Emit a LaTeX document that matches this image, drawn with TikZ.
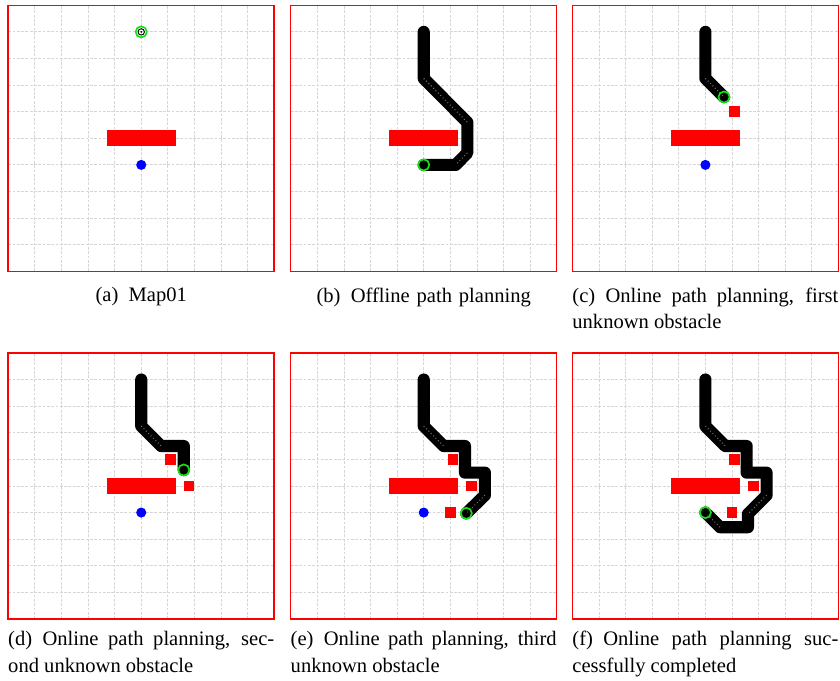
\documentclass[tikz,border=0pt]{standalone}
\usepackage{fontspec}
\setmainfont{Liberation Serif}
\usepackage{tikz}
\definecolor{robotgreen}{RGB}{20,225,20}
\newcommand{\capfont}{\fontsize{11}{14.2}\selectfont}
\newcommand{\mapgrid}{%
  \draw[gridline] (0,0) grid (10,10);
  \fill[obstacle] (3.7,4.7) rectangle (6.3,5.3);
  \draw[border] (0,0) rectangle (10,10);}
\newcommand{\goalat}[1]{\fill[blue] #1 circle (0.19);}
\newcommand{\newobst}[1]{\fill[obstacle] #1 ++(-0.2,-0.2) rectangle ++(0.4,0.4);}
\newcommand{\robotat}[1]{%
  \draw[robotring] #1 circle (0.21);
  \draw[black, line width=0.5pt] #1 circle (0.12);
  \fill[black] #1 circle (0.04);}
\tolerance=10000
\hbadness=10000

\begin{document}
\begin{tikzpicture}[x=0.5cm, y=0.5cm,
    every node/.style={font=\capfont, inner sep=0pt},
    gridline/.style={black!16, line width=0.45pt, step=0.5cm, dash pattern=on 1.5pt off 0.8pt},
    border/.style={red, line width=0.8pt},
    obstacle/.style={fill=red},
    route/.style={line width=6.5pt, line cap=round, line join=round},
    trace/.style={black!55, line width=0.6pt, dash pattern=on 0.5pt off 1.3pt},
    robotring/.style={robotgreen, line width=0.9pt},
    caption/.style={text width=5cm, align=justify, anchor=north}]
  \useasboundingbox (0,0) rectangle (31.58,25.6);

  % (a) the map
  \begin{scope}[shift={(0.31,15.4)}]
    \mapgrid
    \goalat{(5,4)}
    \robotat{(5,9)}
    \node[caption, align=center] (capa) at (5,-0.6) {(a)\enspace Map01};
  \end{scope}

  % (b) offline plan
  \begin{scope}[shift={(10.93,15.4)}]
    \mapgrid
    \draw[route] (5,9) -- (5,7.25) -- (6.64,5.6) -- (6.64,4.45) -- (6.2,4) -- (5,4);
    \draw[trace] (5,7.25) -- (6.64,5.6) (6.64,4.45) -- (6.2,4);
    \robotat{(5,4)}
    \node[caption, align=center] (capb) at (5,-0.6) {(b)\enspace Offline path planning};
  \end{scope}

  % (c) first unknown obstacle
  \begin{scope}[shift={(21.52,15.4)}]
    \mapgrid
    \newobst{(6.1,6)}
    \goalat{(5,4)}
    \draw[route] (5,9) -- (5,7.25) -- (5.7,6.55);
    \draw[trace] (5,7.25) -- (5.7,6.55);
    \robotat{(5.7,6.55)}
    \node[caption] (capc) at (5,-0.6) {(c)\enspace Online path planning, first\linebreak unknown obstacle};
  \end{scope}

  % (d) second unknown obstacle
  \begin{scope}[shift={(0.31,2.33)}]
    \mapgrid
    \newobst{(6.1,6)}
    \newobst{(6.8,5)}
    \goalat{(5,4)}
    \draw[route] (5,9) -- (5,7.25) -- (5.75,6.5) -- (6.6,6.5) -- (6.6,5.6);
    \draw[trace] (5,7.25) -- (5.75,6.5);
    \robotat{(6.6,5.6)}
    \node[caption] (capd) at (5,-0.45) {(d)\enspace Online path planning, sec-\linebreak ond unknown obstacle};
  \end{scope}

  % (e) third unknown obstacle
  \begin{scope}[shift={(10.93,2.33)}]
    \mapgrid
    \newobst{(6.1,6)}
    \newobst{(6.8,5)}
    \newobst{(6,4)}
    \goalat{(5,4)}
    \draw[route] (5,9) -- (5,7.25) -- (5.75,6.5) -- (6.55,6.5) -- (6.55,5.5)
      -- (7.3,5.5) -- (7.3,4.65) -- (6.6,3.97);
    \draw[trace] (5,7.25) -- (5.75,6.5) (7.3,4.65) -- (6.6,3.97);
    \robotat{(6.6,3.97)}
    \node[caption] (cape) at (5,-0.45) {(e)\enspace Online path planning, third\linebreak unknown obstacle};
  \end{scope}

  % (f) goal reached
  \begin{scope}[shift={(21.52,2.33)}]
    \mapgrid
    \newobst{(6.1,6)}
    \newobst{(6.8,5)}
    \newobst{(6,4)}
    \draw[route] (5,9) -- (5,7.25) -- (5.75,6.5) -- (6.55,6.5) -- (6.55,5.5)
      -- (7.3,5.5) -- (7.3,4.65) -- (6.6,3.95) -- (6.6,3.45) -- (5.55,3.45) -- (5,4);
    \draw[trace] (5,7.25) -- (5.75,6.5) (7.3,4.65) -- (6.6,3.95) (5.55,3.45) -- (5,4);
    \robotat{(5,4)}
    \node[caption] (capf) at (5,-0.45) {(f)\enspace Online path planning suc-\linebreak cessfully completed};
  \end{scope}
\end{tikzpicture}
\end{document}
